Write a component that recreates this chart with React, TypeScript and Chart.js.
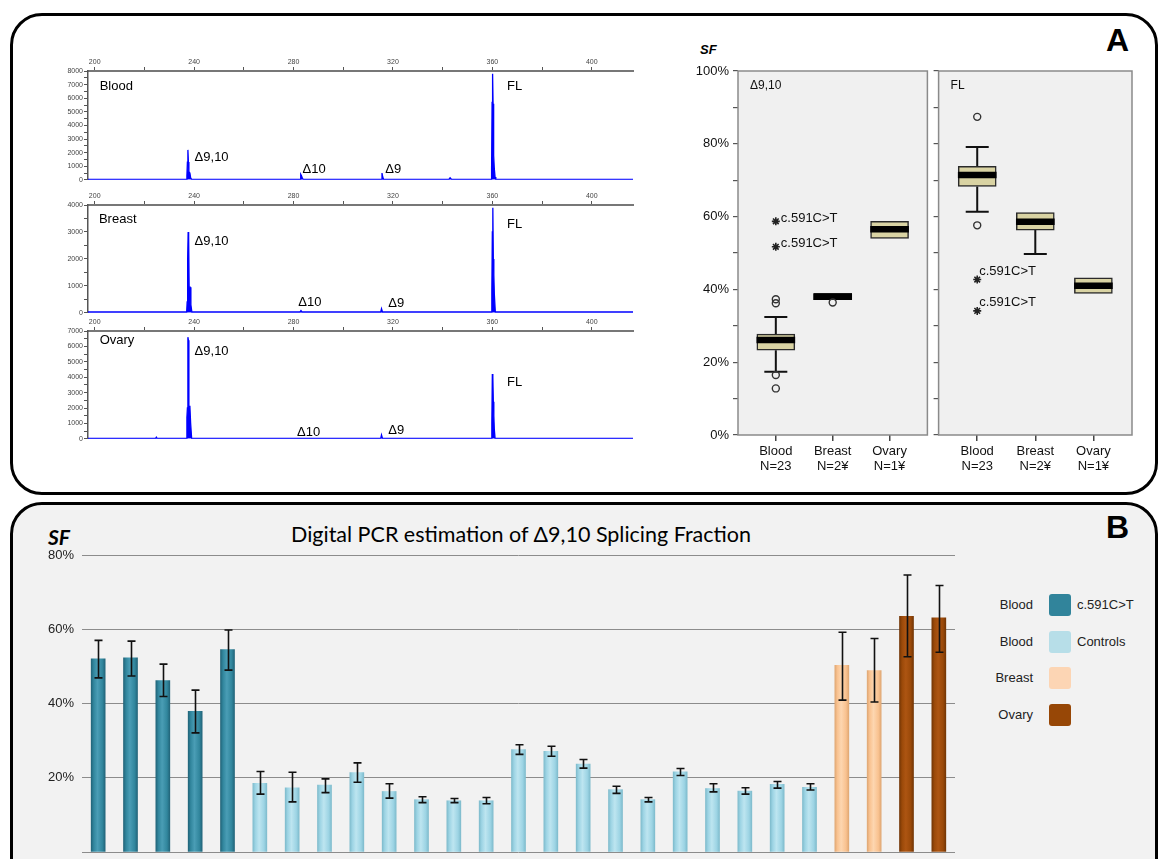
import React, { useEffect, useRef } from "react";
import { Chart, registerables } from "chart.js";
Chart.register(...registerables);

const SANS = '"Liberation Sans", Arial, Helvetica, sans-serif';
const CAL = 'Lato, "Open Sans", sans-serif';

// ---------- Panel A (left): capillary electropherograms, [size bp, signal RFU]
const sizeMin = 197.3;
const sizeMax = 416.6;
const bloodTrace: [number, number][] = [
  [197.3, 30], [236.9, 30], [237.1, 300], [237.3, 1300], [237.5, 2200], [237.7, 1300], [237.9, 600], [238.3, 500], [238.6, 150], [239.0, 30],
  [282.7, 30], [282.9, 400], [283.2, 300], [283.6, 100], [284.0, 30],
  [315.4, 30], [315.6, 500], [315.9, 200], [316.3, 30],
  [342.5, 30], [343.0, 150], [343.6, 30],
  [359.5, 30], [359.7, 800], [359.9, 5700], [360.1, 7800], [360.3, 5600], [360.45, 2500], [360.6, 1800], [360.8, 800], [361.1, 200], [361.4, 30],
  [416.6, 30],
];
const breastTrace: [number, number][] = [
  [197.3, 30], [237.0, 30], [237.2, 400], [237.4, 2000], [237.6, 3000], [237.8, 2800], [238.0, 950], [238.4, 950], [238.7, 300], [239.1, 30],
  [282.6, 30], [283.0, 80], [283.4, 30],
  [315.1, 30], [315.4, 150], [315.8, 30],
  [359.6, 30], [359.8, 800], [360.0, 3000], [360.2, 3900], [360.4, 2000], [360.6, 1400], [360.8, 700], [361.2, 30],
  [416.6, 30],
];
const ovaryTrace: [number, number][] = [
  [197.3, 30], [224.5, 30], [224.8, 100], [225.1, 30],
  [236.9, 30], [237.1, 1400], [237.3, 2000], [237.5, 6600], [237.7, 6400], [237.9, 2100], [238.3, 2100], [238.6, 1000], [239.0, 30],
  [315.1, 30], [315.4, 250], [315.8, 30],
  [359.6, 30], [359.8, 1000], [360.0, 4200], [360.2, 4000], [360.4, 2400], [360.6, 1500], [360.8, 600], [361.1, 30],
  [416.6, 30],
];
const bloodYMax = 8000;
const breastYMax = 4000;
const ovaryYMax = 7000;
type Note = { text: string; x: number; y: number };
const bloodNotes: Note[] = [
  { text: "Blood", x: 202.0, y: 6877 },
  { text: "Δ9,10", x: 240.2, y: 1615 },
  { text: "Δ10", x: 283.6, y: 785 },
  { text: "Δ9", x: 316.9, y: 785 },
  { text: "FL", x: 365.9, y: 6877 },
];
const breastNotes: Note[] = [
  { text: "Breast", x: 201.7, y: 3480 },
  { text: "Δ9,10", x: 240.2, y: 2663 },
  { text: "Δ10", x: 281.9, y: 371 },
  { text: "Δ9", x: 318.1, y: 360 },
  { text: "FL", x: 365.9, y: 3294 },
];
const ovaryNotes: Note[] = [
  { text: "Ovary", x: 202.0, y: 6415 },
  { text: "Δ9,10", x: 240.2, y: 5704 },
  { text: "Δ10", x: 281.4, y: 426 },
  { text: "Δ9", x: 318.1, y: 536 },
  { text: "FL", x: 365.9, y: 3637 },
];

// ---------- Panel A (right): box plots of splicing fraction (%)
const boxCategories = ["Blood", "Breast", "Ovary"];
const boxCounts = ["N=23", "N=2¥", "N=1¥"];
const d910Q1 = [23.3, 37.2, 54.0];
const d910Median = [26.1, 38.0, 56.5];
const d910Q3 = [27.7, 38.9, 58.7];
const d910WhiskerLow = [17.4, 37.2, 54.0];
const d910WhiskerHigh = [32.4, 38.9, 58.7];
const d910Outliers = [{ x: 0, y: 37.3 }, { x: 0, y: 36.2 }, { x: 0, y: 16.5 }, { x: 0, y: 12.8 }, { x: 1, y: 36.4 }];
const d910Extremes = [{ x: 0, y: 58.7 }, { x: 0, y: 51.7 }];
const flQ1 = [68.3, 56.3, 38.9];
const flMedian = [71.4, 58.6, 41.0];
const flQ3 = [73.8, 61.1, 43.2];
const flWhiskerLow = [61.3, 49.7, 38.9];
const flWhiskerHigh = [79.1, 61.1, 43.2];
const flOutliers = [{ x: 0, y: 87.4 }, { x: 0, y: 57.6 }];
const flExtremes = [{ x: 0, y: 42.7 }, { x: 0, y: 34.1 }];
const extremeLabel = "c.591C>T";

// ---------- Panel B: digital PCR Δ9,10 splicing fraction (%)
const mutantSF = [52.0, 52.3, 46.2, 37.9, 54.5];
const mutantLow = [46.9, 47.4, 41.9, 32.1, 49.0];
const mutantHigh = [57.0, 56.8, 50.6, 43.6, 59.8];
const controlSF = [18.5, 17.3, 18.0, 21.4, 16.3, 14.1, 13.8, 13.8, 27.6, 27.1, 23.7, 16.8, 14.1, 21.6, 17.1, 16.4, 18.2, 17.4];
const controlLow = [15.6, 13.5, 16.0, 18.8, 14.5, 13.3, 13.3, 13.0, 26.3, 25.8, 22.6, 15.8, 13.5, 20.6, 16.2, 15.6, 17.2, 16.7];
const controlHigh = [21.7, 21.5, 19.7, 24.0, 18.4, 14.9, 14.4, 14.7, 28.9, 28.5, 24.9, 17.7, 14.7, 22.5, 18.4, 17.3, 19.0, 18.4];
const breastSF = [50.3, 48.9];
const breastLow = [40.9, 40.4];
const breastHigh = [59.2, 57.5];
const ovarySF = [63.5, 63.1];
const ovaryLow = [52.6, 53.8];
const ovaryHigh = [74.6, 71.8];
const sfTicks = [20, 40, 60, 80];

const groupStyles = [
  { edge: "#22657a", mid: "#31869d", light: "#4a9db5" },
  { edge: "#7fbccd", mid: "#9dd4e4", light: "#bde5f0" },
  { edge: "#e0a874", mid: "#f9c290", light: "#fdd6b0" },
  { edge: "#743605", mid: "#9a4909", light: "#ad5512" },
];

const legendRows = [
  { left: "Blood", right: "c.591C>T", color: "#31849b" },
  { left: "Blood", right: "Controls", color: "#b7dee8" },
  { left: "Breast", right: "", color: "#fcd5b4" },
  { left: "Ovary", right: "", color: "#974706" },
];

// ---------------- chart builders
function notesPlugin(notes: Note[]) {
  return {
    id: "notes",
    afterDraw(chart: any) {
      const { ctx, scales } = chart;
      ctx.save();
      ctx.fillStyle = "#000";
      ctx.font = `13px ${SANS}`;
      ctx.textBaseline = "middle";
      ctx.textAlign = "left";
      notes.forEach((n) => ctx.fillText(n.text, scales.x.getPixelForValue(n.x), scales.y.getPixelForValue(n.y)));
      ctx.restore();
    },
  };
}

function epgConfig(trace: [number, number][], yMax: number, notes: Note[]): any {
  return {
    type: "line",
    data: {
      datasets: [
        {
          data: trace.map(([x, y]) => ({ x, y })),
          borderColor: "#0000ff",
          backgroundColor: "#0000ff",
          borderWidth: 1.3,
          pointRadius: 0,
          fill: "origin",
          tension: 0,
        },
      ],
    },
    options: {
      animation: false,
      responsive: false,
      devicePixelRatio: 1,
      layout: { padding: { top: 6, right: 7, bottom: 5, left: 0 } },
      plugins: { legend: { display: false }, tooltip: { enabled: false } },
      scales: {
        x: {
          type: "linear",
          position: "top",
          min: sizeMin,
          max: sizeMax,
          afterFit: (s: any) => { s.height = 15; },
          ticks: {
            stepSize: 20, includeBounds: false, autoSkip: false, maxRotation: 0, padding: 1,
            font: { family: SANS, size: 7 }, color: "#444",
            callback: (v: number) => (v % 40 === 0 ? String(v) : ""),
          },
          grid: { drawOnChartArea: false, tickLength: 4, color: "#555", lineWidth: 1 },
          border: { display: true, color: "#777", width: 2 },
        },
        y: {
          min: 0,
          max: yMax,
          afterFit: (s: any) => { s.width = 48; },
          ticks: {
            stepSize: 500, autoSkip: false, padding: 1,
            font: { family: SANS, size: 7 }, color: "#444",
            callback: (v: number) => (v % 1000 === 0 ? String(v) : ""),
          },
          grid: { drawOnChartArea: false, tickLength: 4, color: "#555", lineWidth: 1 },
          border: { display: true, color: "#555", width: 1.5 },
        },
      },
    },
    plugins: [notesPlugin(notes)],
  };
}

function boxConfig(
  q1: number[], med: number[], q3: number[], wl: number[], wh: number[],
  outliers: { x: number; y: number }[], extremes: { x: number; y: number }[],
  panelLabel: string, showY: boolean, yWidth: number, padRight: number, extDx: number, extDy: number
): any {
  const panelPlugin = {
    id: "panel",
    beforeDraw(chart: any) {
      const { ctx, chartArea: a } = chart;
      ctx.save();
      ctx.fillStyle = "#f0f0f0";
      ctx.fillRect(a.left, a.top, a.right - a.left, a.bottom - a.top);
      ctx.restore();
    },
    beforeDatasetsDraw(chart: any) {
      const { ctx, scales } = chart;
      ctx.save();
      ctx.strokeStyle = "#111";
      ctx.lineWidth = 2;
      q1.forEach((_, i) => {
        const x = scales.x.getPixelForValue(i);
        const pairs = [[q3[i], wh[i]], [q1[i], wl[i]]];
        pairs.forEach(([from, to]) => {
          if (Math.abs(to - from) < 0.05) return;
          const y0 = scales.y.getPixelForValue(from);
          const y1 = scales.y.getPixelForValue(to);
          ctx.beginPath();
          ctx.moveTo(x, y0); ctx.lineTo(x, y1);
          ctx.moveTo(x - 11.5, y1); ctx.lineTo(x + 11.5, y1);
          ctx.stroke();
        });
      });
      ctx.restore();
    },
    afterDraw(chart: any) {
      const { ctx, chartArea: a, scales } = chart;
      ctx.save();
      ctx.strokeStyle = "#8a8a8a";
      ctx.lineWidth = 1.5;
      ctx.strokeRect(a.left, a.top, a.right - a.left, a.bottom - a.top);
      ctx.fillStyle = "#111";
      ctx.font = `12px ${SANS}`;
      ctx.textBaseline = "middle";
      ctx.fillText(panelLabel, a.left + 12, a.top + 15);
      ctx.font = `13px ${SANS}`;
      extremes.forEach((p) => {
        ctx.fillText(extremeLabel, scales.x.getPixelForValue(p.x) + extDx, scales.y.getPixelForValue(p.y) + extDy);
      });
      ctx.restore();
    },
  };
  return {
    type: "bar",
    data: {
      datasets: [
        {
          type: "bar",
          data: q1.map((v, i) => ({ x: i, y: [v, q3[i]] })),
          backgroundColor: "#d9d3a3",
          borderColor: "#2a2a2a",
          borderWidth: 1.5,
          borderSkipped: false,
          barThickness: 38,
          grouped: false,
          order: 4,
        },
        {
          type: "bar",
          data: med.map((v, i) => ({ x: i, y: [v - 0.8, v + 0.8] })),
          backgroundColor: "#000",
          borderWidth: 0,
          barThickness: 38,
          grouped: false,
          order: 3,
        },
        {
          type: "scatter",
          data: outliers,
          pointStyle: "circle",
          pointRadius: 3.5,
          borderColor: "#333",
          backgroundColor: "rgba(0,0,0,0)",
          borderWidth: 1.4,
          order: 2,
        },
        {
          type: "scatter",
          data: extremes,
          pointStyle: "star",
          pointRadius: 4,
          borderColor: "#222",
          backgroundColor: "#222",
          borderWidth: 1.6,
          order: 1,
        },
      ],
    },
    options: {
      animation: false,
      responsive: false,
      devicePixelRatio: 1,
      layout: { padding: { top: 31, right: padRight, bottom: 0, left: 0 } },
      plugins: { legend: { display: false }, tooltip: { enabled: false } },
      scales: {
        x: {
          type: "linear",
          min: -0.665,
          max: 2.665,
          offset: false,
          afterBuildTicks: (s: any) => { s.ticks = boxCategories.map((_, i) => ({ value: i })); },
          afterFit: (s: any) => { s.height = 45; },
          ticks: {
            autoSkip: false, maxRotation: 0, padding: 3,
            font: { family: SANS, size: 13, lineHeight: 1.15 }, color: "#111",
            callback: (v: number) => [boxCategories[v], boxCounts[v]],
          },
          grid: { drawOnChartArea: false, tickLength: 6, color: "#444", lineWidth: 1.5, offset: false },
          border: { display: false },
        },
        y: {
          min: 0,
          max: 100,
          afterFit: (s: any) => { s.width = yWidth; },
          ticks: {
            display: showY, stepSize: 10, autoSkip: false, padding: 4,
            font: { family: SANS, size: 13 }, color: "#111",
            callback: (v: number) => (v % 20 === 0 ? v + "%" : ""),
          },
          grid: { drawOnChartArea: false, tickLength: 5, color: "#555", lineWidth: 1.2 },
          border: { display: false },
        },
      },
    },
    plugins: [panelPlugin],
  };
}

function sfBarConfig(): any {
  const groups = [
    { sf: mutantSF, lo: mutantLow, hi: mutantHigh },
    { sf: controlSF, lo: controlLow, hi: controlHigh },
    { sf: breastSF, lo: breastLow, hi: breastHigh },
    { sf: ovarySF, lo: ovaryLow, hi: ovaryHigh },
  ];
  const values = groups.flatMap((g) => g.sf);
  const lows = groups.flatMap((g) => g.lo);
  const highs = groups.flatMap((g) => g.hi);
  const groupOf = groups.flatMap((g, gi) => g.sf.map(() => gi));
  const labels = values.map((_, i) => `S${i + 1}`);
  const half = 7;

  const errPlugin = {
    id: "errbars",
    afterDatasetsDraw(chart: any) {
      const { ctx, scales } = chart;
      ctx.save();
      ctx.strokeStyle = "#111";
      ctx.lineWidth = 1.6;
      values.forEach((_, i) => {
        const x = Math.round(scales.x.getPixelForValue(i)) + 0.5;
        const yh = scales.y.getPixelForValue(highs[i]);
        const yl = scales.y.getPixelForValue(lows[i]);
        ctx.beginPath();
        ctx.moveTo(x, yh); ctx.lineTo(x, yl);
        ctx.moveTo(x - 4, yh); ctx.lineTo(x + 4, yh);
        ctx.moveTo(x - 4, yl); ctx.lineTo(x + 4, yl);
        ctx.stroke();
      });
      ctx.restore();
    },
  };

  return {
    type: "bar",
    data: {
      labels,
      datasets: [
        {
          data: values,
          barThickness: 14,
          borderWidth: 0,
          backgroundColor: (c: any) => {
            const st = groupStyles[groupOf[c.dataIndex] ?? 0];
            const xs = c.chart.scales?.x;
            if (c.dataIndex == null || !xs) return st.mid;
            const x = xs.getPixelForValue(c.dataIndex);
            if (!Number.isFinite(x)) return st.mid;
            const g = c.chart.ctx.createLinearGradient(x - half, 0, x + half, 0);
            g.addColorStop(0, st.edge);
            g.addColorStop(0.18, st.mid);
            g.addColorStop(0.45, st.light);
            g.addColorStop(0.8, st.mid);
            g.addColorStop(1, st.edge);
            return g;
          },
        },
      ],
    },
    options: {
      animation: false,
      responsive: false,
      devicePixelRatio: 1,
      layout: { padding: { top: 15, right: 5, bottom: 7, left: 0 } },
      plugins: { legend: { display: false }, tooltip: { enabled: false } },
      scales: {
        x: { display: false },
        y: {
          min: 0,
          max: 80,
          afterBuildTicks: (s: any) => { s.ticks = [0, ...sfTicks].map((v) => ({ value: v })); },
          afterFit: (s: any) => { s.width = 82; s.paddingTop = 0; s.paddingBottom = 0; },
          ticks: {
            padding: 8, font: { family: SANS, size: 13 }, color: "#222",
            callback: (v: number) => (v === 0 ? "" : v + "%"),
          },
          grid: { drawTicks: false, color: "#8c8c8c", lineWidth: 1 },
          border: { display: false },
        },
      },
    },
    plugins: [errPlugin],
  };
}

type CanvasSpec = { left: number; top: number; width: number; height: number };
const epgBoxes: CanvasSpec[] = [
  { left: 40, top: 50, width: 600, height: 135 },
  { left: 40, top: 184, width: 600, height: 134 },
  { left: 40, top: 310, width: 600, height: 134 },
];
const boxLeft: CanvasSpec = { left: 680, top: 40, width: 253, height: 440 };
const boxRight: CanvasSpec = { left: 933, top: 40, width: 205, height: 440 };
const barBox: CanvasSpec = { left: 0, top: 540, width: 960, height: 319 };

export default function App() {
  const r1 = useRef<HTMLCanvasElement>(null);
  const r2 = useRef<HTMLCanvasElement>(null);
  const r3 = useRef<HTMLCanvasElement>(null);
  const r4 = useRef<HTMLCanvasElement>(null);
  const r5 = useRef<HTMLCanvasElement>(null);
  const r6 = useRef<HTMLCanvasElement>(null);

  useEffect(() => {
    const charts: Chart[] = [];
    charts.push(new Chart(r1.current!, epgConfig(bloodTrace, bloodYMax, bloodNotes)));
    charts.push(new Chart(r2.current!, epgConfig(breastTrace, breastYMax, breastNotes)));
    charts.push(new Chart(r3.current!, epgConfig(ovaryTrace, ovaryYMax, ovaryNotes)));
    charts.push(new Chart(r4.current!, boxConfig(d910Q1, d910Median, d910Q3, d910WhiskerLow, d910WhiskerHigh, d910Outliers, d910Extremes, "Δ9,10", true, 58, 1, 5, -3)));
    charts.push(new Chart(r5.current!, boxConfig(flQ1, flMedian, flQ3, flWhiskerLow, flWhiskerHigh, flOutliers, flExtremes, "FL", false, 4, 6, 2, -8)));
    charts.push(new Chart(r6.current!, sfBarConfig()));
    return () => charts.forEach((c) => c.destroy());
  }, []);

  const cv = (ref: any, s: CanvasSpec) => (
    <canvas ref={ref} width={s.width} height={s.height}
      style={{ position: "absolute", left: s.left, top: s.top, width: s.width, height: s.height }} />
  );

  return (
    <div style={{ position: "absolute", left: 0, top: 0, width: 1160, height: 859, overflow: "hidden", background: "#fff", fontFamily: SANS }}>
      {/* Panel A frame */}
      <div style={{ position: "absolute", left: 10, top: 13, width: 1148, height: 482, boxSizing: "border-box", border: "3px solid #000", borderRadius: 32, background: "#fff" }} />
      {/* Panel B frame */}
      <div style={{ position: "absolute", left: 10, top: 502, width: 1148, height: 420, boxSizing: "border-box", border: "3px solid #000", borderRadius: 32, background: "#f2f2f2" }} />

      <div style={{ position: "absolute", left: 1106, top: 24, fontSize: 32, lineHeight: "32px", fontWeight: "bold" }}>A</div>
      <div style={{ position: "absolute", left: 1106, top: 511, fontSize: 32, lineHeight: "32px", fontWeight: "bold" }}>B</div>

      <div style={{ position: "absolute", left: 700, top: 43, fontSize: 13, lineHeight: "13px", fontWeight: "bold", fontStyle: "italic" }}>SF</div>
      <div style={{ position: "absolute", left: 48, top: 526, fontFamily: CAL, fontSize: 21, lineHeight: "21px", fontWeight: "bold", fontStyle: "italic" }}>SF</div>
      <div style={{ position: "absolute", left: 171, width: 700, textAlign: "center", top: 523, fontFamily: CAL, fontSize: 21.5, lineHeight: "22px", color: "#000" }}>
        Digital PCR estimation of Δ9,10 Splicing Fraction
      </div>

      {cv(r1, epgBoxes[0])}
      {cv(r2, epgBoxes[1])}
      {cv(r3, epgBoxes[2])}
      {cv(r4, boxLeft)}
      {cv(r5, boxRight)}
      {cv(r6, barBox)}

      {legendRows.map((row, i) => {
        const cy = 605 + i * 36.7;
        return (
          <React.Fragment key={i}>
            <div style={{ position: "absolute", left: 960, width: 73, textAlign: "right", top: cy - 7, fontSize: 13, lineHeight: "14px", color: "#222" }}>{row.left}</div>
            <div style={{ position: "absolute", left: 1049, top: cy - 11, width: 22, height: 22, borderRadius: 3, background: row.color }} />
            <div style={{ position: "absolute", left: 1077, top: cy - 7, fontSize: 13, lineHeight: "14px", color: "#222" }}>{row.right}</div>
          </React.Fragment>
        );
      })}
    </div>
  );
}
